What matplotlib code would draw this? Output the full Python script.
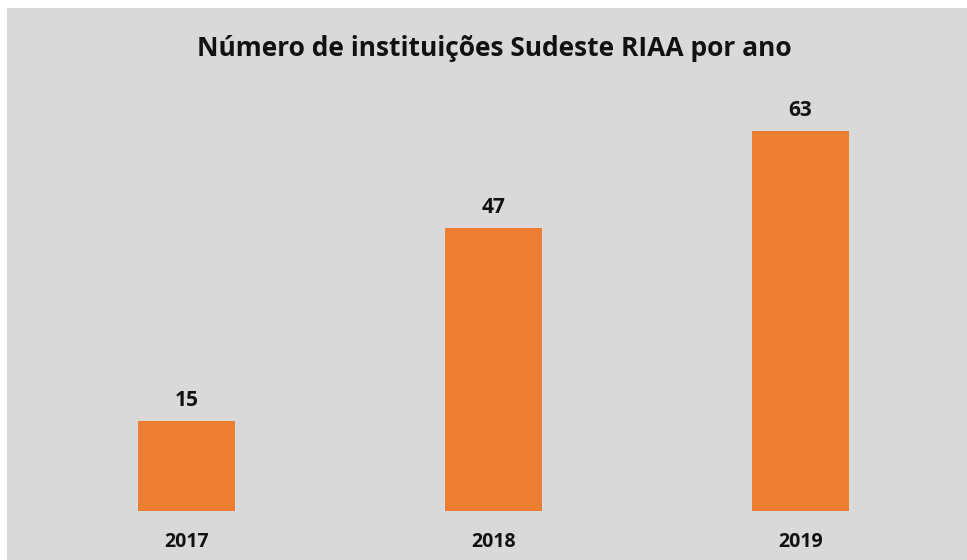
import matplotlib.pyplot as plt
import matplotlib.patches as mpatches
import numpy as np

anos = ['2017', '2018', '2019']
instituicoes = [15, 47, 63]

plt.rcParams['font.family'] = ['Open Sans', 'DejaVu Sans']

fig = plt.figure(figsize=(9.67, 5.6), dpi=100)
fig.patch.set_facecolor('white')
# gray chart area (white strip left/top like the screenshot)
fig.patches.append(mpatches.Rectangle((7/967, 0), 1, 552/560, transform=fig.transFigure,
                                      facecolor='#D9D9D9', edgecolor='none', zorder=-1))

ax = fig.add_axes([33/967, 49/560, 921/967, 0.72])
ax.set_facecolor('none')
x = np.arange(len(anos))
bars = ax.bar(x, instituicoes, width=0.316, color='#ED7D31')
ax.set_xlim(-0.5, 2.5)
ax.set_ylim(0, 63 * (0.72 * 560) / 380)
for b, v in zip(bars, instituicoes):
    ax.annotate(str(v), (b.get_x() + b.get_width() / 2, v), xytext=(0, 7),
                textcoords='offset points', ha='center', va='bottom',
                fontsize=15, fontweight='bold', color='#111111')
ax.set_xticks(x)
ax.set_xticklabels(anos, fontsize=14, fontweight='bold', color='#111111')
ax.tick_params(axis='x', length=0, pad=15)
ax.set_yticks([])
for s in ax.spines.values():
    s.set_visible(False)

fig.text(494/967, 1 - 48/560, 'Número de instituições Sudeste RIAA por ano',
         ha='center', va='center', fontsize=19, fontweight='bold', color='#111111')

fig.savefig('out.png', dpi=100)
